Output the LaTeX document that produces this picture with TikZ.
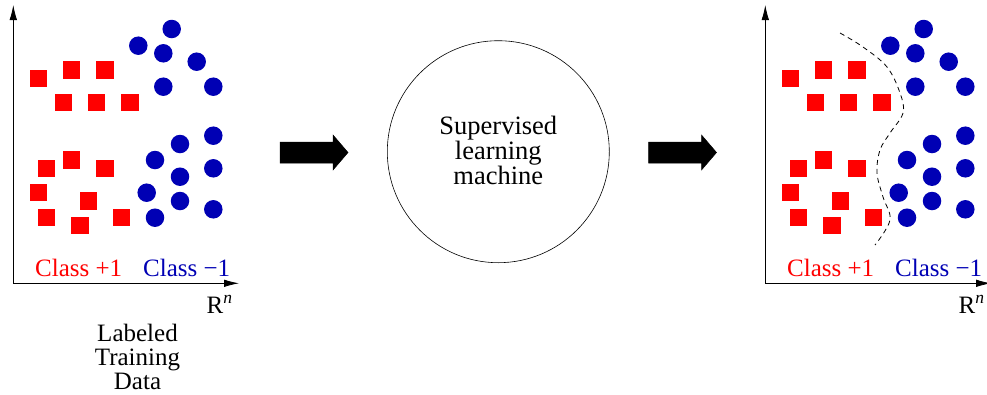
\documentclass[tikz,border=0pt]{standalone}
\usepackage{fontspec}
\setmainfont{Liberation Serif}
\definecolor{classpos}{RGB}{255,0,0}
\definecolor{classneg}{RGB}{0,0,180}
\usetikzlibrary{arrows.meta}
\tikzset{
  sq/.style={fill=classpos, draw=none, minimum size=17.5pt, inner sep=0pt, shape=rectangle},
  dot/.style={fill=classneg, draw=none, circle, minimum size=18.5pt, inner sep=0pt},
  axis/.style={draw=black, line width=0.8pt, -{Latex[length=15pt,width=7.5pt]}},
  bigarrow/.style={fill=black, draw=black, line width=0.5pt},
  lbl/.style={font=\fontsize{25}{24}\selectfont, inner sep=0pt},
  boundary/.style={draw=black, line width=0.8pt, dash pattern=on 5pt off 4pt}
}
% one labelled sample set with its axes, reused for input and output
\newcommand{\sampleset}[1]{%
  \node[sq] (#1s1) at (38.3,78.3) {};
  \node[sq] (#1s2) at (71.7,70) {};
  \node[sq] (#1s3) at (105,70) {};
  \node[sq] (#1s4) at (63.3,102.7) {};
  \node[sq] (#1s5) at (96.7,102.7) {};
  \node[sq] (#1s6) at (130,102.7) {};
  \node[sq] (#1s7) at (46.7,168.3) {};
  \node[sq] (#1s8) at (71.7,160) {};
  \node[sq] (#1s9) at (105,168.3) {};
  \node[sq] (#1s10) at (38.3,192.7) {};
  \node[sq] (#1s11) at (88.3,201) {};
  \node[sq] (#1s12) at (46.7,217.3) {};
  \node[sq] (#1s13) at (80,225.7) {};
  \node[sq] (#1s14) at (121.7,217.3) {};
  \node[dot] (#1c1) at (171.7,29) {};
  \node[dot] (#1c2) at (138.3,45.7) {};
  \node[dot] (#1c3) at (163.3,53.3) {};
  \node[dot] (#1c4) at (196.7,61.7) {};
  \node[dot] (#1c5) at (163.3,86.7) {};
  \node[dot] (#1c6) at (213.3,86.7) {};
  \node[dot] (#1c7) at (213.3,135.7) {};
  \node[dot] (#1c8) at (180,144) {};
  \node[dot] (#1c9) at (155,160) {};
  \node[dot] (#1c10) at (213.3,168.3) {};
  \node[dot] (#1c11) at (180,176.7) {};
  \node[dot] (#1c12) at (146.7,192.7) {};
  \node[dot] (#1c13) at (180,201) {};
  \node[dot] (#1c14) at (213.3,209.3) {};
  \node[dot] (#1c15) at (155,217.7) {};
  \coordinate (#1o) at (13.3,283.3);
  \coordinate (#1y) at (13.3,5);
  \coordinate (#1x) at (239,283.3);
  \draw[axis] (#1o) -- (#1y);
  \draw[axis] (#1o) -- (#1x);
  \node[lbl, text=classpos, anchor=base west] (#1pos) at (35,276.5) {Class +1};
  \node[lbl, text=classneg, anchor=base west] (#1neg) at (143,276.5) {Class \char"2212 1};
  \node[lbl, anchor=base west] (#1rn) at (206.5,313) {R\textsuperscript{\itshape n}};
}
\begin{document}
\begin{tikzpicture}[x=1pt, y=-1pt]
  \useasboundingbox (0,0) rectangle (987,394);

  % training data
  \begin{scope}
    \sampleset{in}
  \end{scope}
  \node[lbl, align=center, anchor=base] (tdata) at (137.5,389)
    {Labeled\\Training\\Data};

  % learning machine
  \node[circle, draw=black, line width=0.6pt, minimum size=222pt, inner sep=0pt] (machine) at (498.3,151.7) {};
  \node[lbl, font=\fontsize{26.5}{24}\selectfont, align=center, anchor=base] (mtext) at (498.3,184.5) {Supervised\\learning\\machine};

  % flow arrows
  \draw[bigarrow] (280,142) -- (333,142) -- (333,135) -- (348,152.5) -- (333,170) -- (333,163) -- (280,163) -- cycle;
  \draw[bigarrow] (648.5,142) -- (701.5,142) -- (701.5,135) -- (716.5,152.5) -- (701.5,170) -- (701.5,163) -- (648.5,163) -- cycle;

  % classified data with decision boundary
  \begin{scope}[shift={(752,0)}]
    \sampleset{out}
  \end{scope}
  \draw[boundary] plot[smooth, tension=0.6] coordinates {
    (840,33) (863,47) (887,67) (900,93) (903,113) (890,133) (880,150)
    (877,173) (883,197) (890,220) (875,245)};
\end{tikzpicture}
\end{document}
